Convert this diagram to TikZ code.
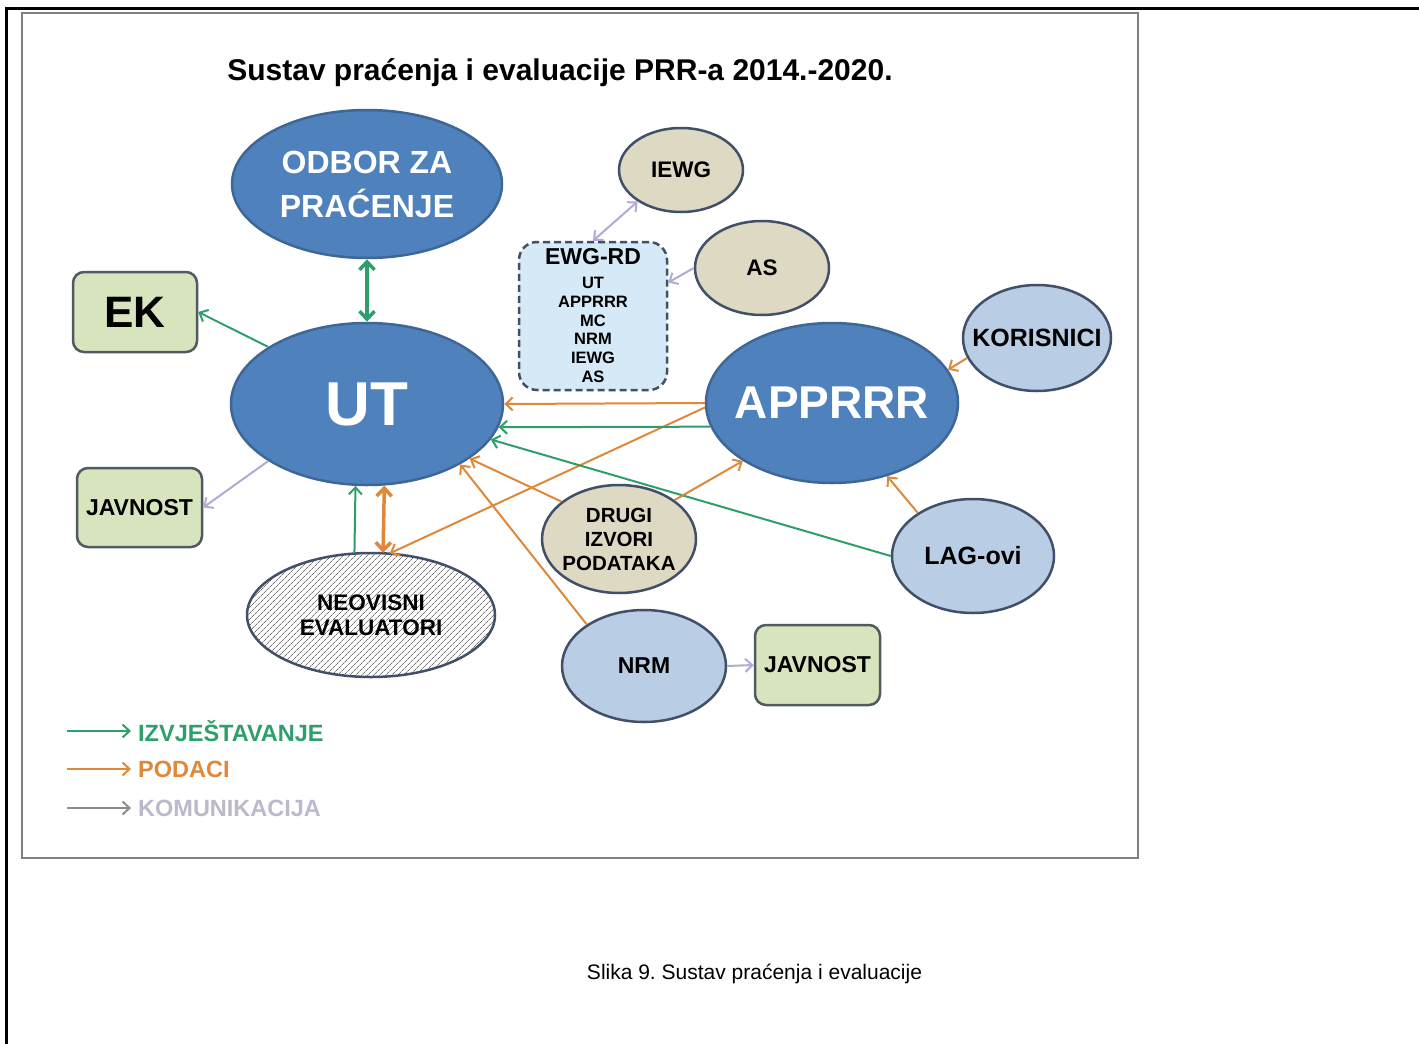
\documentclass[tikz,border=0pt]{standalone}
\usepackage{fontspec}
\setmainfont{Liberation Sans}
\usetikzlibrary{shapes.geometric,arrows.meta,patterns.meta}
\definecolor{dblue}{HTML}{4F81BD}
\definecolor{dbluebord}{HTML}{3D6797}
\definecolor{lblue}{HTML}{B9CDE5}
\definecolor{tanc}{HTML}{DDD9C3}
\definecolor{lgreen}{HTML}{D7E4BD}
\definecolor{ewgfill}{HTML}{D5E9F7}
\definecolor{bord}{HTML}{415068}
\definecolor{boxbord}{HTML}{505A60}
\definecolor{cgreen}{HTML}{2E9F6A}
\definecolor{corange}{HTML}{E0883A}
\definecolor{cviolet}{HTML}{B3A9D6}
\definecolor{legviolet}{HTML}{BDB9CC}
\definecolor{framegray}{HTML}{808080}
\newcommand\fsz[2]{\fontsize{#1pt}{#2pt}\selectfont}
\frenchspacing
\begin{document}
\begin{tikzpicture}[x=1pt,y=-1pt,
  bigell/.style={ellipse, draw=dbluebord, fill=dblue, line width=2.5pt, inner sep=0pt},
  smell/.style={ellipse, draw=bord, line width=2.5pt, inner sep=0pt},
  gbox/.style={rectangle, rounded corners=11pt, draw=boxbord, fill=lgreen, line width=2.5pt, inner sep=0pt},
  wtxt/.style={text=white, align=center, inner sep=0pt},
  ktxt/.style={text=black, align=center, inner sep=0pt},
  tip/.tip={Straight Barb[length=7pt,width=13pt]},
  arr/.style={-tip, line width=2pt},
  darr/.style={tip-tip, line width=2pt},
  darrthick/.style={{Straight Barb[length=8pt,width=15pt]}-{Straight Barb[length=8pt,width=15pt]}, line width=3.5pt}
]
\useasboundingbox (0,0) rectangle (1419,1044);
\fill[white] (0,0) rectangle (1419,1044);
\draw[line width=3pt,black] (1419,8) -- (6.5,8) -- (6.5,1044);
\draw[line width=2.5pt,draw=framegray] (22,13) rectangle (1138,858);

% title
\node[font=\fsz{30}{34}\bfseries, anchor=base] (title) at (560,80) {Sustav praćenja i evaluacije PRR-a 2014.-2020.};

% big ellipses
\node[bigell, minimum width=270pt, minimum height=148pt,
  label={[wtxt,font=\fsz{32}{44}\bfseries]center:{ODBOR ZA\\PRAĆENJE}}] (odbor) at (367,184) {};
\node[bigell, minimum width=272pt, minimum height=162pt,
  label={[wtxt,font=\fsz{62}{70}\bfseries]center:UT}] (ut) at (367,404) {};
\node[bigell, minimum width=252pt, minimum height=160pt,
  label={[wtxt,font=\fsz{46}{50}\bfseries]center:APPRRR}] (appr) at (832,403) {};

% small ellipses
\node[smell, fill=lblue, minimum width=148pt, minimum height=106pt,
  label={[ktxt,font=\fsz{25}{30}\bfseries]center:KORISNICI}] (kor) at (1037,338) {};
\node[smell, fill=lblue, minimum width=162pt, minimum height=114pt,
  label={[ktxt,font=\fsz{25}{30}\bfseries]center:LAG-ovi}] (lag) at (973,556) {};
\node[smell, fill=tanc, minimum width=124pt, minimum height=84pt,
  label={[ktxt,font=\fsz{22.5}{27}\bfseries]center:IEWG}] (iewg) at (681,170) {};
\node[smell, fill=tanc, minimum width=134pt, minimum height=94pt,
  label={[ktxt,font=\fsz{22.5}{27}\bfseries]center:AS}] (as) at (762,268) {};
\node[smell, fill=tanc, minimum width=154pt, minimum height=108pt,
  label={[ktxt,font=\fsz{20.5}{24}\bfseries]center:{DRUGI\\IZVORI\\PODATAKA}}] (drugi) at (619,539) {};
\node[smell, fill=lblue, minimum width=164pt, minimum height=112pt,
  label={[ktxt,font=\fsz{23}{27}\bfseries]center:NRM}] (nrm) at (644,666) {};
\node[smell, preaction={fill=white}, pattern={Lines[angle=45,distance=4pt,line width=0.8pt]}, pattern color=black!55,
  minimum width=248pt, minimum height=124pt,
  label={[ktxt,font=\fsz{22.5}{25}\bfseries]center:{NEOVISNI\\EVALUATORI}}] (neo) at (371,615) {};

% EWG-RD box
\node[rectangle, rounded corners=18pt, draw=bord, dash pattern=on 7pt off 4pt, fill=ewgfill, line width=2.5pt,
  minimum width=148pt, minimum height=148pt, inner sep=0pt] (ewg) at (593,316) {};
\node[ktxt, font=\fsz{23}{27}\bfseries] (ewgt) at (593,257) {EWG-RD};
\node[ktxt, font=\fsz{16.5}{18.8}\bfseries] (ewgl) at (593,330) {UT\\APPRRR\\MC\\NRM\\IEWG\\AS};

% green boxes
\node[gbox, minimum width=124pt, minimum height=80pt,
  label={[ktxt,font=\fsz{44}{50}\bfseries]center:EK}] (ek) at (135,312) {};
\node[gbox, minimum width=125pt, minimum height=79pt,
  label={[ktxt,font=\fsz{23}{27}\bfseries]center:JAVNOST}] (jav1) at (139.5,507.5) {};
\node[gbox, minimum width=125pt, minimum height=80pt,
  label={[ktxt,font=\fsz{23}{27}\bfseries]center:JAVNOST}] (jav2) at (817.5,665) {};

% connectors
\draw[darrthick, cgreen] (odbor.south) -- (ut.north);
\draw[arr, cgreen] (ut.150) -- (ek.east);
\draw[arr, cviolet] (ut.210) -- (jav1.east);
\draw[arr, cgreen] (neo.105) -- (ut.262);
\draw[darrthick, corange] (neo.79) -- (ut.282);
\draw[arr, corange] (appr.182) -- (neo.73);
\draw[arr, corange] (appr.west) -- (ut.east);
\draw[arr, cgreen] (appr.191) -- (ut.350);
\draw[arr, cgreen] (lag.west) -- (ut.344);
\draw[arr, corange] (drugi.147) -- (ut.332);
\draw[arr, corange] (nrm.144) -- (ut.327);
\draw[arr, corange] (drugi.35) -- (appr.213);
\draw[arr, corange] (kor.196) -- (appr.16);
\draw[arr, corange] (lag.142) -- (appr.307);
\draw[darr, cviolet] (iewg.216) -- (ewg.north);
\draw[arr, cviolet] (as.west) -- (ewg.24);
\draw[arr, cviolet] (nrm.east) -- (jav2.west);

% legend
\coordinate (lg1a) at (67,731); \coordinate (lg1b) at (131,731);
\coordinate (lg2a) at (67,769); \coordinate (lg2b) at (131,769);
\coordinate (lg3a) at (67,808); \coordinate (lg3b) at (131,808);
\draw[arr, cgreen] (lg1a) -- (lg1b);
\draw[arr, corange] (lg2a) -- (lg2b);
\draw[arr, black!45] (lg3a) -- (lg3b);
\node[anchor=west, text=cgreen, font=\fsz{23.5}{26}\bfseries, inner sep=0pt] (lt1) at (138,731) {IZVJEŠTAVANJE};
\node[anchor=west, text=corange, font=\fsz{23.5}{26}\bfseries, inner sep=0pt] (lt2) at (138,769) {PODACI};
\node[anchor=west, text=legviolet, font=\fsz{23.5}{26}\bfseries, inner sep=0pt] (lt3) at (138,808) {KOMUNIKACIJA};

% caption
\node[font=\fsz{21}{25}, anchor=base] (cap) at (754.5,979) {Slika 9. Sustav praćenja i evaluacije};
\end{tikzpicture}
\end{document}
